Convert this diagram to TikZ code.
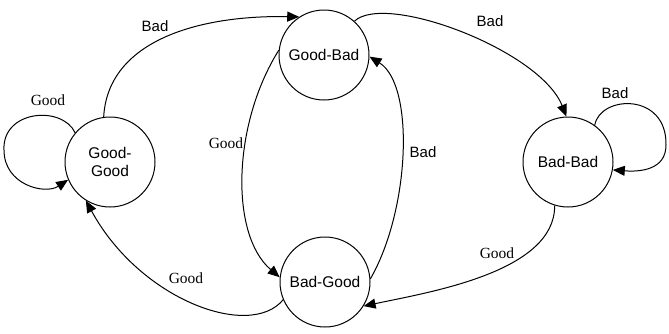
\documentclass[tikz,border=0pt]{standalone}
\usepackage{fontspec}
\setmainfont{Liberation Sans}
\newfontfamily\serifl{Liberation Serif}
\usetikzlibrary{arrows.meta}
\tikzset{
  st/.style={circle, draw, line width=1pt, minimum size=90pt, inner sep=0pt, align=center, font=\fontsize{15.5}{18.5}\selectfont},
  arr/.style={line width=1pt, -{Triangle[length=12pt,width=10pt]}},
  lbad/.style={font=\fontsize{15}{18}\selectfont, inner sep=0pt},
  lgood/.style={font=\serifl\fontsize{15.5}{18}\selectfont, inner sep=0pt}
}
\begin{document}
\begin{tikzpicture}[x=1pt,y=1pt]
\useasboundingbox (0,0) rectangle (669,-333);
\node[st] (gg) at (110,-162) {Good-\\Good};
\node[st] (gb) at (324,-55) {Good-Bad};
\node[st] (bg) at (325,-282) {Bad-Good};
\node[st] (bb) at (568,-162) {Bad-Bad};
% loops
\draw[arr] (gg.140) .. controls (62,-105) and (2,-110) .. (4,-150) .. controls (4,-185) and (45,-195) .. (gg.203);
\draw[arr] (bb.54) .. controls (600,-95) and (667,-92) .. (666,-145) .. controls (666,-170) and (640,-172) .. (bb.-10);
% edges
\draw[arr] (gg.98) .. controls (108,-40) and (200,-15) .. (gb.123);
\draw[arr] (gb.48) .. controls (385,8) and (540,-50) .. (bb.92);
\draw[arr] (bb.253) .. controls (555,-272) and (430,-292) .. (bg.-32);
\draw[arr] (bg.4) .. controls (410,-210) and (415,-85) .. (gb.-2);
\draw[arr] (gb.174) .. controls (232,-125) and (230,-235) .. (bg.174);
\draw[arr] (bg.203) .. controls (250,-340) and (140,-300) .. (gg.238);
% labels
\node[lgood] (l1) at (48,-100) {Good};
\node[lbad] (l2) at (155,-26) {Bad};
\node[lbad] (l3) at (490,-21) {Bad};
\node[lbad] (l4) at (615,-93) {Bad};
\node[lbad] (l5) at (423,-152) {Bad};
\node[lgood] (l6) at (226,-143) {Good};
\node[lgood] (l7) at (186,-278) {Good};
\node[lgood] (l8) at (497,-253) {Good};
\end{tikzpicture}
\end{document}
